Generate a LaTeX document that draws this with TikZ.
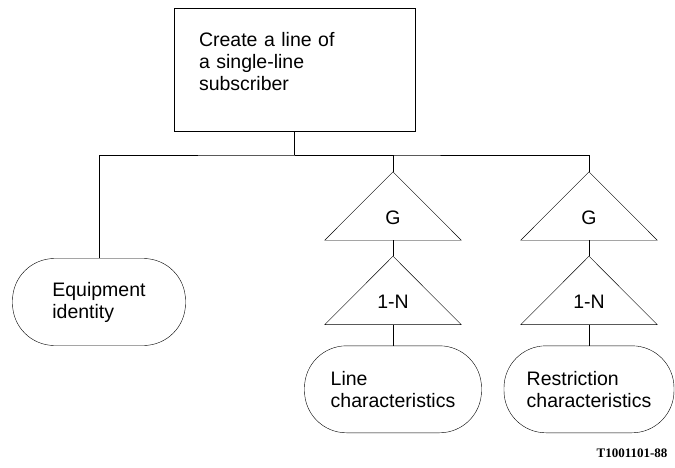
\documentclass[tikz,border=0pt]{standalone}
\usepackage{fontspec}
\setmainfont{Liberation Sans}
\newfontfamily\reffont{Liberation Serif}
\usetikzlibrary{positioning}
\tikzset{
x=1pt, y=-1pt, % one unit is one pixel, y runs downwards
line width=1.9pt, % makes all lines bold
every node/.style={font=\fontsize{19.5}{22}\selectfont}, % sets the text of each node
box/.style={draw, minimum width=241pt, minimum height=123pt, text width=191pt, align=left, inner xsep=25pt, inner ysep=0pt, text height=14pt, text depth=59pt}, % the operation box
pill/.style={draw, rounded corners=42pt, minimum width=175pt, minimum height=87pt, align=left}, % the data boxes
tri/.style={minimum width=136pt, minimum height=68pt, inner sep=0pt, text height=36pt, text depth=0pt,
  append after command={\pgfextra{\draw (\tikzlastnode.south west) -- (\tikzlastnode.north) -- (\tikzlastnode.south east) -- cycle;}}}, % the triangles
}

\begin{document}
\begin{tikzpicture}
        \useasboundingbox (0,0) rectangle (675,468);

        % Operation
        \node[box] (Create) at (294.5,69.5) {Create a line of\\a single-line\\subscriber};
        \coordinate (Bus) at (294.5,155);

        % Equipment
        \node[pill, minimum width=173pt] (Equipment) at (99,302) {Equipment\\identity};

        % Line branch
        \node[tri] (G-line) at (393,206) {G};
        \node[tri, below=16pt of G-line] (1N-line) {1-N};
        \node[pill, minimum width=177pt, below=21pt of 1N-line] (Line) {Line\\characteristics};

        % Restriction branch
        \node[tri] (G-restr) at (589,206) {G};
        \node[tri, below=16pt of G-restr] (1N-restr) {1-N};
        \node[pill, minimum width=170pt, below=21pt of 1N-restr] (Restriction) {Restriction\\characteristics};

        \draw (Create.south) -- (Bus);
        \draw (Equipment.north) |- (Bus) -| (G-restr.north);
        \draw (Bus) -| (G-line.north);
        \draw (G-line.south) -- (1N-line.north);
        \draw (1N-line.south) -- (Line.north);
        \draw (G-restr.south) -- (1N-restr.north);
        \draw (1N-restr.south) -- (Restriction.north);

        \node[font=\reffont\bfseries\fontsize{13}{14}\selectfont, anchor=base east] (Ref) at (671,457) {T1001101-88};
    \end{tikzpicture}
\end{document}
